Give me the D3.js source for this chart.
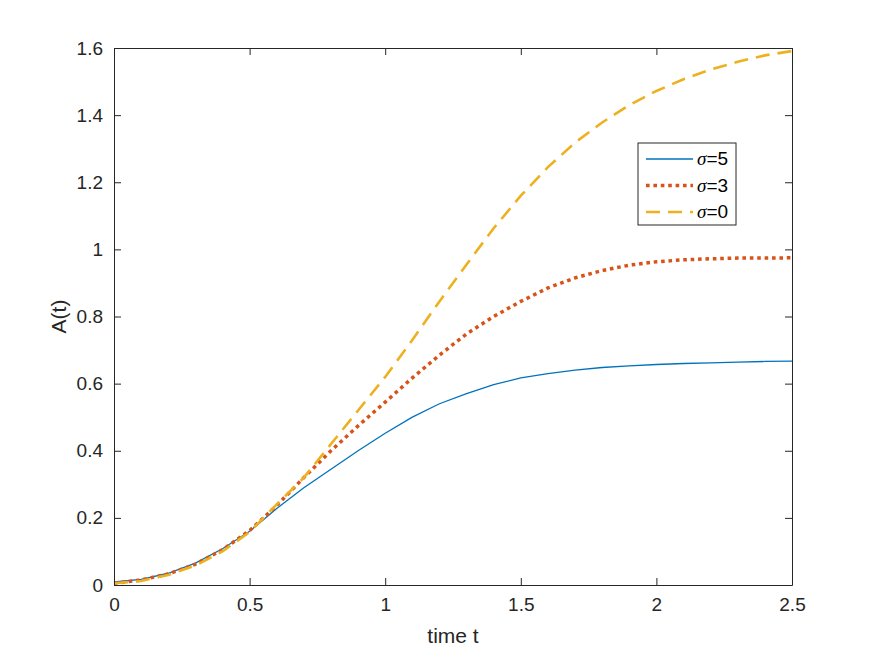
<!DOCTYPE html>
<html>
<head>
<meta charset="utf-8">
<script src="https://d3js.org/d3.v7.min.js"></script>
<style>
  body { margin: 0; background: #fff; }
  text { font-family: "Liberation Sans", Arial, sans-serif; }
</style>
</head>
<body>
<script>
// time samples and A(t) for each sigma
const time = [0, 0.1, 0.2, 0.3, 0.4, 0.5, 0.6, 0.7, 0.8, 0.9, 1.0, 1.1, 1.2,
              1.3, 1.4, 1.5, 1.6, 1.7, 1.8, 1.9, 2.0, 2.1, 2.2, 2.3, 2.4, 2.5];
const sigma5 = [0.009, 0.017, 0.035, 0.065, 0.108, 0.16, 0.228, 0.29, 0.345, 0.4, 0.452, 0.5, 0.54,
                0.57, 0.597, 0.617, 0.63, 0.64, 0.648, 0.653, 0.657, 0.66, 0.662, 0.664, 0.666, 0.667];
const sigma3 = [0.005, 0.015, 0.033, 0.062, 0.105, 0.162, 0.237, 0.32, 0.40, 0.474, 0.545, 0.617, 0.685,
                0.748, 0.80, 0.845, 0.885, 0.915, 0.937, 0.953, 0.963, 0.969, 0.972, 0.974, 0.974, 0.975];
const sigma0 = [0.005, 0.012, 0.03, 0.058, 0.10, 0.158, 0.24, 0.32, 0.42, 0.52, 0.62, 0.73, 0.845,
                0.955, 1.063, 1.16, 1.245, 1.318, 1.378, 1.43, 1.472, 1.507, 1.536, 1.559, 1.578, 1.591];
const legendNames = ["5", "3", "0"];
const xTicks = [0, 0.5, 1, 1.5, 2, 2.5];
const yTicks = [0, 0.2, 0.4, 0.6, 0.8, 1, 1.2, 1.4, 1.6];

const width = 875, height = 657;
const margin = {top: 48, right: 83, bottom: 72, left: 114};
const w = width - margin.left - margin.right;
const h = height - margin.top - margin.bottom;

const svg = d3.select("body").append("svg")
    .attr("width", width)
    .attr("height", height);

const g = svg.append("g")
    .attr("transform", "translate(" + [margin.left, margin.top].join(",") + ")");

const xscale = d3.scaleLinear().domain([0, 2.5]).range([0, w]);
const yscale = d3.scaleLinear().domain([0, 1.6]).range([h, 0]);

const series = [
    {values: sigma5, color: "#0072BD", width: 1.3, dash: null},
    {values: sigma3, color: "#D95319", width: 3.5, dash: "3.6,3.8"},
    {values: sigma0, color: "#EDB120", width: 2.6, dash: "14,8"}
];

const line = d3.line()
    .x((d, i) => xscale(time[i]))
    .y(d => yscale(d));

series.forEach(s => {
    g.append("path")
        .datum(s.values)
        .attr("fill", "none")
        .attr("stroke", s.color)
        .attr("stroke-width", s.width)
        .attr("stroke-dasharray", s.dash)
        .attr("d", line);
});

// axes, ticks pointing inward like matlab
const fmt = d3.format("~g");
const axisColor = "#262626";

function styleAxis(sel) {
    sel.select(".domain").attr("stroke", axisColor).attr("stroke-width", 1);
    sel.selectAll(".tick line").attr("stroke", axisColor);
    sel.selectAll(".tick text").attr("fill", axisColor)
        .style("font-family", '"Liberation Sans", Arial, sans-serif')
        .attr("font-size", 19);
}

g.append("g")
    .attr("transform", "translate(0," + h + ")")
    .call(d3.axisBottom(xscale).tickValues(xTicks).tickFormat(fmt)
        .tickSizeInner(-7).tickSizeOuter(0).tickPadding(13))
    .call(styleAxis);

g.append("g")
    .call(d3.axisTop(xscale).tickValues(xTicks).tickFormat("")
        .tickSizeInner(-7).tickSizeOuter(0))
    .call(styleAxis);

g.append("g")
    .call(d3.axisLeft(yscale).tickValues(yTicks).tickFormat(fmt)
        .tickSizeInner(-7).tickSizeOuter(0).tickPadding(11))
    .call(styleAxis);

g.append("g")
    .attr("transform", "translate(" + w + ",0)")
    .call(d3.axisRight(yscale).tickValues(yTicks).tickFormat("")
        .tickSizeInner(-7).tickSizeOuter(0))
    .call(styleAxis);

// axis labels
svg.append("text")
    .attr("x", margin.left + w / 2)
    .attr("y", 643)
    .attr("text-anchor", "middle")
    .attr("font-size", 21)
    .attr("fill", axisColor)
    .text("time t");

svg.append("text")
    .attr("transform", "translate(66," + (margin.top + h / 2) + ") rotate(-90)")
    .attr("text-anchor", "middle")
    .attr("font-size", 21)
    .attr("fill", axisColor)
    .text("A(t)");

// legend
const legend = svg.append("g").attr("transform", "translate(638,143)");
legend.append("rect")
    .attr("width", 98)
    .attr("height", 82)
    .attr("fill", "#fff")
    .attr("stroke", axisColor)
    .attr("stroke-width", 1);

series.forEach((s, i) => {
    const yy = 16 + i * 26.5;
    legend.append("line")
        .attr("x1", 8).attr("x2", 55)
        .attr("y1", yy).attr("y2", yy)
        .attr("stroke", s.color)
        .attr("stroke-width", s.width)
        .attr("stroke-dasharray", s.dash);
    const t = legend.append("text")
        .attr("x", 59)
        .attr("y", yy + 6)
        .attr("font-size", 19)
        .attr("fill", "#000");
    t.append("tspan").attr("font-style", "italic")
        .style("font-family", '"Liberation Serif", serif').text("σ");
    t.append("tspan").text("=" + legendNames[i]);
});
</script>
</body>
</html>
